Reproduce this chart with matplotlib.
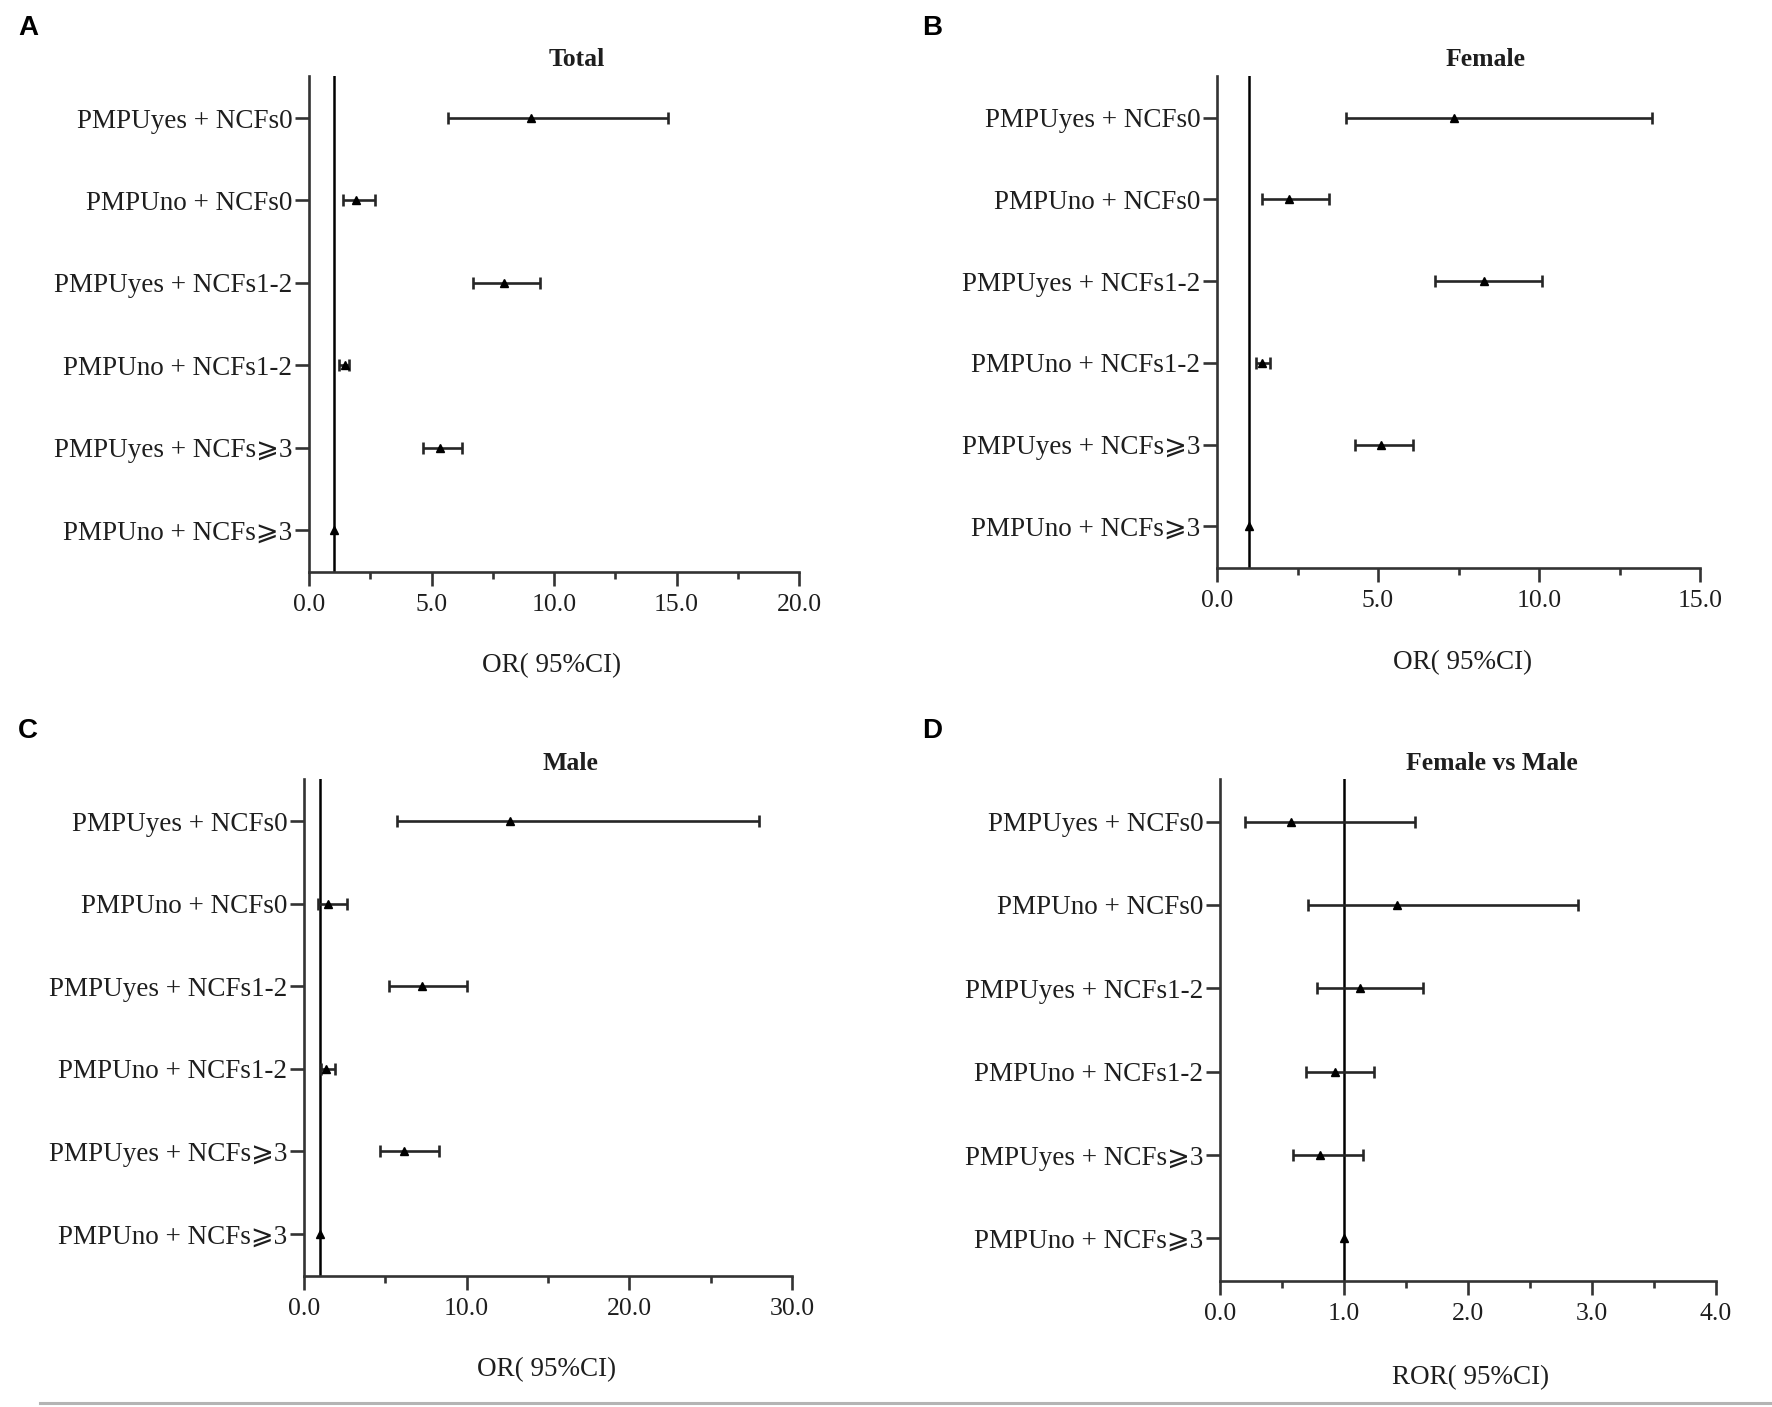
import numpy as np
import matplotlib.pyplot as plt
from matplotlib.ticker import MultipleLocator, FormatStrFormatter

# row labels, top to bottom
labels = ['PMPUyes + NCFs0', 'PMPUno + NCFs0', 'PMPUyes + NCFs1-2',
          'PMPUno + NCFs1-2', 'PMPUyes + NCFs⩾3', 'PMPUno + NCFs⩾3']

# odds ratios with 95% CI
total_or = [9.06, 1.91, 7.94, 1.47, 5.36, 1.0]
total_lo = [5.66, 1.37, 6.71, 1.23, 4.66, 1.0]
total_hi = [14.65, 2.68, 9.43, 1.65, 6.26, 1.0]

female_or = [7.36, 2.24, 8.29, 1.39, 5.09, 1.0]
female_lo = [4.00, 1.41, 6.78, 1.20, 4.28, 1.0]
female_hi = [13.50, 3.49, 10.09, 1.64, 6.09, 1.0]

male_or = [12.67, 1.50, 7.25, 1.37, 6.16, 1.0]
male_lo = [5.74, 0.88, 5.22, 1.05, 4.66, 1.0]
male_hi = [28.00, 2.63, 10.00, 1.93, 8.30, 1.0]

ror = [0.57, 1.43, 1.13, 0.93, 0.81, 1.0]
ror_lo = [0.20, 0.71, 0.785, 0.69, 0.59, 1.0]
ror_hi = [1.57, 2.89, 1.64, 1.24, 1.15, 1.0]

plt.rcParams['font.family'] = ['Liberation Serif', 'DejaVu Sans']

W, H = 1772, 1407
fig = plt.figure(figsize=(W / 100, H / 100), dpi=100)


def add_ax(l, t, r, b):
    return fig.add_axes([l / W, 1 - b / H, (r - l) / W, (b - t) / H])


def forest(ax, est, lo, hi, xmax, major, minor):
    est = np.array(est)
    lo = np.array(lo)
    hi = np.array(hi)
    y = np.arange(len(est))
    has_ci = hi > lo
    ax.axvline(1.0, color='black', lw=1.8, zorder=1)
    ax.errorbar(est[has_ci], y[has_ci],
                xerr=[est[has_ci] - lo[has_ci], hi[has_ci] - est[has_ci]],
                fmt='none', ecolor='#262626', elinewidth=1.9,
                capsize=4, capthick=1.9, zorder=2)
    ax.plot(est, y, '^', color='black', ms=6, zorder=3, clip_on=False)
    ax.set_xlim(0, xmax)
    ax.set_ylim(len(est) - 1 + 0.51, -0.51)
    ax.set_yticks(y)
    ax.set_yticklabels(labels)
    ax.set_xticks(np.arange(0, xmax + 1e-9, major))
    ax.xaxis.set_minor_locator(MultipleLocator(minor))
    ax.xaxis.set_major_formatter(FormatStrFormatter('%.1f'))
    for side in ['top', 'right']:
        ax.spines[side].set_visible(False)
    for side in ['left', 'bottom']:
        ax.spines[side].set_linewidth(1.9)
        ax.spines[side].set_color('#333333')
    ax.tick_params(axis='y', length=10, width=1.9, color='#333333',
                   labelsize=19.5, pad=2, labelcolor='#1e1e1e')
    ax.tick_params(axis='x', which='major', length=10, width=1.9,
                   color='#333333', labelsize=18.5, pad=6, labelcolor='#1e1e1e')
    ax.tick_params(axis='x', which='minor', length=5, width=1.9, color='#333333')


panels = [
    ('A', 'Total', (309, 76, 799, 572), total_or, total_lo, total_hi, 20, 5, 2.5,
     'OR( 95%CI)', (577, 59), (552, 666), (28, 28)),
    ('B', 'Female', (1217, 76, 1700, 568), female_or, female_lo, female_hi, 15, 5, 2.5,
     'OR( 95%CI)', (1486, 59), (1463, 663), (932, 28)),
    ('C', 'Male', (304, 779, 792, 1276), male_or, male_lo, male_hi, 30, 10, 5,
     'OR( 95%CI)', (570, 763), (547, 1370), (28, 731)),
    ('D', 'Female vs Male', (1220, 779, 1716, 1281), ror, ror_lo, ror_hi, 4, 1, 0.5,
     'ROR( 95%CI)', (1492, 763), (1471, 1378), (932, 731)),
]

for letter, title, box, est, lo, hi, xmax, major, minor, xlab, tpos, xpos, lpos in panels:
    ax = add_ax(*box)
    forest(ax, est, lo, hi, xmax, major, minor)
    fig.text(tpos[0] / W, 1 - tpos[1] / H, title, ha='center', va='center',
             fontsize=18.5, fontweight='bold', color='#1e1e1e')
    fig.text(xpos[0] / W, 1 - xpos[1] / H, xlab, ha='center', va='center',
             fontsize=19.5, color='#1e1e1e')
    fig.text(lpos[0] / W, 1 - lpos[1] / H, letter, ha='center', va='center',
             fontsize=20, fontweight='bold', family='Liberation Sans')

# thin grey rule at the bottom of the figure
fig.add_artist(plt.Line2D([40 / W, 1.0], [1 - 1403 / H] * 2, color='#b4b4b4', lw=2.2))

fig.savefig('out.png', dpi=100, facecolor='white')
